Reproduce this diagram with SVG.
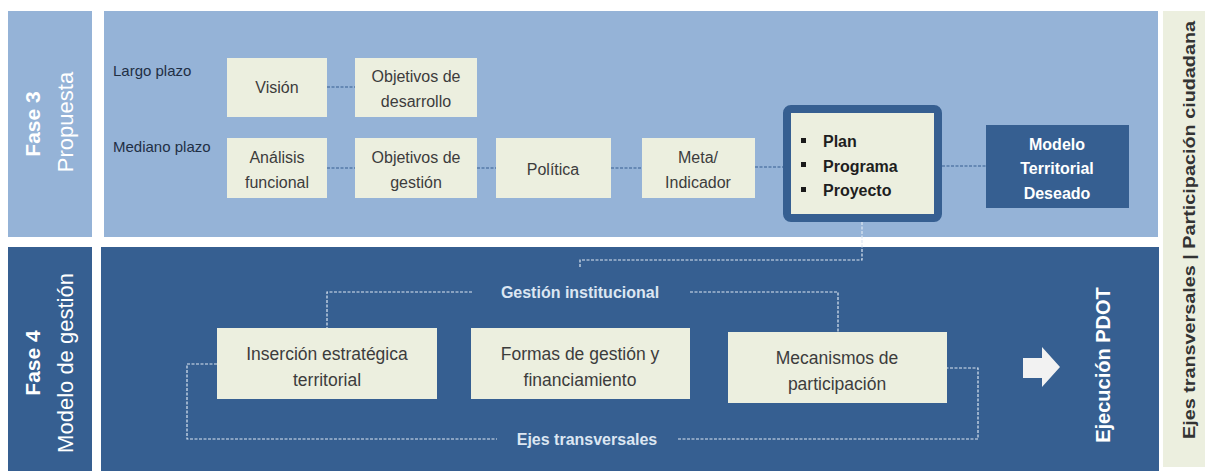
<svg xmlns="http://www.w3.org/2000/svg" width="1205" height="471" viewBox="0 0 1205 471">
<style>
.light{fill:#95b3d7}
.dark{fill:#365f91}
.box{fill:#ecefdf}
.t{font-family:"Liberation Sans",Arial,sans-serif;font-size:16px;fill:#3c3c3c;text-anchor:middle}
.t2{font-family:"Liberation Sans",Arial,sans-serif;font-size:17.5px;fill:#3c3c3c;text-anchor:middle}
.lbl{font-family:"Liberation Sans",Arial,sans-serif;font-size:15px;fill:#1f2f45}
.wb{font-family:"Liberation Sans",Arial,sans-serif;font-weight:bold;fill:#ffffff;text-anchor:middle}
.wr{font-family:"Liberation Sans",Arial,sans-serif;fill:#ffffff;text-anchor:middle}
.sub{font-family:"Liberation Sans",Arial,sans-serif;font-weight:bold;font-size:16px;fill:#dce6f2;text-anchor:middle}
.dd{fill:none;stroke:#365f91;stroke-width:1.2;stroke-dasharray:3 1.5}
.dl{fill:none;stroke:#dce6f2;stroke-width:1.2;stroke-dasharray:3 1.5}
</style>
<rect width="1205" height="471" fill="#ffffff"/>
<g id="panels">
<rect class="light" x="8" y="11" width="84" height="226"/>
<rect class="light" x="104" y="11" width="1054" height="226"/>
<rect class="dark" x="8" y="247" width="84" height="224"/>
<rect class="dark" x="101" y="247" width="1058" height="224"/>
<rect x="1163" y="11" width="42" height="456" fill="#ecefdf"/>
</g>
<g id="phase-labels">
<text class="wb" font-size="21" transform="translate(40 124) rotate(-90)">Fase 3</text>
<text class="wr" font-size="22" transform="translate(73 122) rotate(-90)">Propuesta</text>
<text class="wb" font-size="21" transform="translate(40 363) rotate(-90)">Fase 4</text>
<text class="wr" font-size="22" transform="translate(73 363) rotate(-90)">Modelo de gestión</text>
<text class="lbl" x="113" y="76">Largo plazo</text>
<text class="lbl" x="113" y="152">Mediano plazo</text>
</g>
<g id="connectors">
<line class="dd" x1="327" y1="87" x2="355" y2="87"/>
<line class="dd" x1="327" y1="168" x2="355" y2="168"/>
<line class="dd" x1="477" y1="168" x2="496" y2="168"/>
<line class="dd" x1="611" y1="168" x2="642" y2="168"/>
<line class="dd" x1="755" y1="167" x2="783" y2="167"/>
<line class="dd" x1="942" y1="166" x2="986" y2="166"/>
<path class="dl" d="M862 222 V260 H580 V268"/>
<path class="dl" d="M472 292 H327 V328"/>
<path class="dl" d="M690 292 H838 V332"/>
<path class="dl" d="M217 364 H187 V439 H497"/>
<path class="dl" d="M678 439 H978 V368 H947"/>
</g>
<g id="vision">
<rect class="box" x="227" y="58" width="100" height="59"/>
<text class="t" x="277" y="93">Visión</text>
</g>
<g id="objetivos-desarrollo">
<rect class="box" x="355" y="58" width="122" height="59"/>
<text class="t" x="416" y="82">Objetivos de</text>
<text class="t" x="416" y="107">desarrollo</text>
</g>
<g id="analisis">
<rect class="box" x="227" y="138" width="100" height="60"/>
<text class="t" x="277" y="163">Análisis</text>
<text class="t" x="277" y="188">funcional</text>
</g>
<g id="objetivos-gestion">
<rect class="box" x="355" y="138" width="122" height="60"/>
<text class="t" x="416" y="163">Objetivos de</text>
<text class="t" x="416" y="188">gestión</text>
</g>
<g id="politica">
<rect class="box" x="496" y="138" width="115" height="60"/>
<text class="t" x="553" y="175">Política</text>
</g>
<g id="meta">
<rect class="box" x="642" y="138" width="113" height="60"/>
<text class="t" x="698" y="163">Meta/</text>
<text class="t" x="698" y="188">Indicador</text>
</g>
<g id="plan">
<rect x="787" y="109" width="151" height="109" rx="4" fill="#ecefdf" stroke="#365f91" stroke-width="8"/>
<rect x="801" y="138" width="5" height="5" fill="#1a1a1a"/>
<rect x="801" y="162" width="5" height="5" fill="#1a1a1a"/>
<rect x="801" y="187" width="5" height="5" fill="#1a1a1a"/>
<text class="t" x="823" y="147" style="font-weight:bold;text-anchor:start;fill:#1e1e1e">Plan</text>
<text class="t" x="823" y="172" style="font-weight:bold;text-anchor:start;fill:#1e1e1e">Programa</text>
<text class="t" x="823" y="196" style="font-weight:bold;text-anchor:start;fill:#1e1e1e">Proyecto</text>
</g>
<g id="modelo">
<rect class="dark" x="986" y="125" width="143" height="83"/>
<text class="wb" font-size="16" x="1057" y="150">Modelo</text>
<text class="wb" font-size="16" x="1057" y="174">Territorial</text>
<text class="wb" font-size="16" x="1057" y="199">Deseado</text>
</g>
<g id="gestion-label">
<text class="sub" x="580" y="298">Gestión institucional</text>
</g>
<g id="insercion">
<rect class="box" x="217" y="328" width="220" height="71"/>
<text class="t2" x="327" y="360">Inserción estratégica</text>
<text class="t2" x="327" y="386">territorial</text>
</g>
<g id="formas">
<rect class="box" x="471" y="328" width="219" height="71"/>
<text class="t2" x="580" y="360">Formas de gestión y</text>
<text class="t2" x="580" y="386">financiamiento</text>
</g>
<g id="mecanismos">
<rect class="box" x="728" y="332" width="219" height="71"/>
<text class="t2" x="837" y="364">Mecanismos de</text>
<text class="t2" x="837" y="390">participación</text>
</g>
<g id="ejes-label">
<text class="sub" x="587" y="445">Ejes transversales</text>
</g>
<g id="arrow">
<path d="M1023 358 H1042 V347 L1060 367 L1042 387 V378 H1023 Z" fill="#f2f2f2"/>
</g>
<g id="ejecucion">
<text class="wb" font-size="20" transform="translate(1110 365) rotate(-90)">Ejecución PDOT</text>
</g>
<g id="side-strip">
<text font-family="'Liberation Sans',Arial,sans-serif" font-size="17" font-weight="bold" fill="#333333" text-anchor="middle" textLength="418" lengthAdjust="spacingAndGlyphs" transform="translate(1195 230) rotate(-90)">Ejes transversales | Participación ciudadana</text>
</g>
</svg>
